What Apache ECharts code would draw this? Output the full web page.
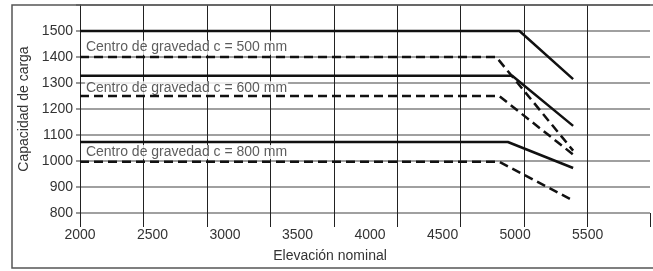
<!DOCTYPE html>
<html>
<head>
<meta charset="utf-8">
<script src="https://cdn.jsdelivr.net/npm/echarts@6/dist/echarts.min.js"></script>
<style>
  html, body { margin: 0; padding: 0; background: #fff; overflow: hidden; }
  #chart { width: 653px; height: 271px; }
</style>
</head>
<body>
<div id="chart"></div>
<script>
// capacity curves, [elevation, capacity]
const solid500 = [[2000, 1500], [5030, 1500], [5400, 1315]];
const dashed500 = [[2000, 1400], [4870, 1400], [5400, 1040]];
const solid600 = [[2000, 1328], [4980, 1328], [5400, 1135]];
const dashed600 = [[2000, 1250], [4890, 1250], [5400, 1025]];
const solid800 = [[2000, 1073], [4950, 1073], [5400, 973]];
const dashed800 = [[2000, 997], [4890, 997], [5400, 848]];

const noteTexts = ['Centro de gravedad c = 500 mm', 'Centro de gravedad c = 600 mm', 'Centro de gravedad c = 800 mm'];
const noteAt = [[2034, 1436], [2034, 1280], [2034, 1035]];

const font = '"Liberation Sans", Arial, sans-serif';
const textColor = '#333';

function curve(data, dashed){
    return {
        type: 'line',
        xAxisIndex: 1,
        data: data,
        symbol: 'none',
        silent: true,
        animation: false,
        z: 3,
        lineStyle: {
            color: '#111',
            width: 2.5,
            type: dashed ? [9, 5] : 'solid'
        }
    }
}

let seriesArr = [
    curve(solid500, false),
    curve(dashed500, true),
    curve(solid600, false),
    curve(dashed600, true),
    curve(solid800, false),
    curve(dashed800, true),
]
noteTexts.forEach((t, i) => {
    seriesArr.push({
        type: 'scatter',
        xAxisIndex: 1,
        data: [noteAt[i]],
        symbolSize: 0,
        silent: true,
        animation: false,
        z: 2,
        label: {
            show: true,
            position: 'right',
            distance: 0,
            formatter: t,
            fontFamily: font,
            fontSize: 14,
            color: textColor,
            backgroundColor: '#fff',
            padding: [0, 1, 0, 1]
        }
    })
})

const myChart = echarts.init(document.getElementById('chart'), null, { renderer: 'canvas' })
const option = {
    animation: false,
    textStyle: { fontFamily: font },
    grid: {
        left: 80,
        right: -2,
        top: 5,
        bottom: 58,
        containLabel: false
    },
    graphic: [{
        type: 'rect',
        shape: { x: 12, y: 5, width: 700, height: 263 },
        style: { fill: 'none', stroke: '#555', lineWidth: 1.5 },
        z: 10
    }],
    xAxis: [{
        // grid lines of the original drawing
        type: 'value',
        position: 'bottom',
        min: 0,
        max: 575 / 64,
        interval: 1,
        axisLine: { show: false },
        axisTick: { show: true, length: 14, lineStyle: { color: '#222', width: 1 } },
        axisLabel: { show: false },
        splitLine: { show: true, showMaxLine: false, lineStyle: { color: '#222', width: 1 } }
    }, {
        type: 'value',
        position: 'bottom',
        min: 2000,
        max: 5930,
        interval: 500,
        axisLine: { show: false },
        axisTick: { show: false },
        splitLine: { show: false },
        axisLabel: {
            margin: 15,
            fontSize: 14,
            color: textColor,
            fontFamily: font,
            formatter: v => (v % 500 === 0 ? String(v) : '')
        },
        name: 'Elevación nominal',
        nameLocation: 'middle',
        nameGap: 36,
        nameTextStyle: { fontSize: 14, color: textColor, fontFamily: font, padding: [0, 70, 0, 0] }
    }],
    yAxis: {
        type: 'value',
        min: 800,
        max: 1600,
        interval: 100,
        axisLine: { show: true, lineStyle: { color: '#222', width: 1 } },
        axisTick: { show: true, length: 4, lineStyle: { color: '#777', width: 1.5 } },
        axisLabel: {
            margin: 7,
            fontSize: 14,
            color: textColor,
            fontFamily: font,
            formatter: v => (v >= 1600 ? '' : String(v))
        },
        splitLine: { show: true, lineStyle: { color: '#808080', width: 1.5 } },
        name: 'Capacidad de carga',
        nameLocation: 'middle',
        nameGap: 38,
        nameTextStyle: { fontSize: 14, color: textColor, fontFamily: font }
    },
    series: seriesArr
}
myChart.setOption(option)
</script>
</body>
</html>
